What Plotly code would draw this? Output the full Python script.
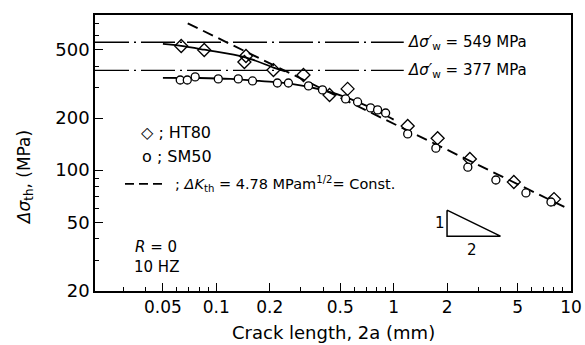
import numpy as np
import plotly.graph_objects as go

# Threshold stress range vs crack length (log-log)
ht80_crack = [0.0634, 0.0855, 0.147, 0.144, 0.21, 0.31, 0.435, 0.55, 1.2, 1.77, 2.69, 4.76, 8.02]
ht80_stress = [522, 495, 457, 422, 379, 355, 272, 295, 180, 153, 116, 85.4, 68]

sm50_crack = [0.0626, 0.0686, 0.076, 0.1026, 0.133, 0.16, 0.221, 0.255, 0.331, 0.397,
              0.536, 0.626, 0.741, 0.812, 0.901, 1.2, 1.73, 2.62, 3.77, 5.57, 7.71]
sm50_stress = [332, 332, 346, 337, 337, 328, 319, 319, 307, 291,
               258, 248, 229, 223, 214, 162, 134, 104, 87.7, 73.8, 65.4]

# Hand-fitted trend curves
ht80_fit_x = [0.05, 0.0634, 0.0855, 0.147, 0.21, 0.245]
ht80_fit_y = [537, 523, 497, 448, 392, 372]
sm50_fit_x = [0.05, 0.08, 0.12, 0.18, 0.26, 0.4, 0.55, 0.7, 0.85, 1.0]
sm50_fit_y = [342, 341, 337, 327, 316, 290, 262, 236, 214, 196]

# Fatigue limits, MPa
fatigue_limits = [549, 377]

# Constant threshold stress intensity range, MPa*m^0.5
delta_k_th = 4.78
geometry_factor = 0.65
dk_crack = [0.069, 9.7]

x_ticks = [0.05, 0.1, 0.2, 0.5, 1, 2, 5, 10]
x_tick_text = ["0.05", "0.1", "0.2", "0.5", "1", "2", "5", "10"]
y_ticks = [20, 50, 100, 200, 500]
x_minor = [0.03, 0.04, 0.06, 0.07, 0.08, 0.09, 0.3, 0.4, 0.6, 0.7, 0.8, 0.9,
           3, 4, 6, 7, 8, 9]
y_minor = [30, 40, 60, 70, 80, 90, 300, 400, 600, 700]

X_MIN, X_MAX = 0.0207, 10.0
Y_MIN, Y_MAX = 20.0, 789.0

FONT = "DejaVu Sans, Liberation Sans, sans-serif"
INK = "black"

fig = go.Figure()

# Fatigue-limit dash-dot lines
for fl in fatigue_limits:
    fig.add_trace(go.Scatter(
        x=[X_MIN, 1.14], y=[fl, fl], mode="lines",
        line=dict(color=INK, width=1.3, dash="34px,5px,2px,5px"),
        showlegend=False, hoverinfo="skip"))

# ΔK_th = const line: Δσ = ΔK / (F * sqrt(pi * a)), a = (2a)/2 in metres
dk_x = np.array(dk_crack)
dk_y = delta_k_th / (geometry_factor * np.sqrt(np.pi * dk_x / 2 * 1e-3))
fig.add_trace(go.Scatter(
    x=dk_x, y=dk_y, mode="lines",
    line=dict(color=INK, width=1.9, dash="11px,6px"),
    showlegend=False, hoverinfo="skip"))

# Trend curves
fig.add_trace(go.Scatter(
    x=ht80_fit_x, y=ht80_fit_y, mode="lines", line_shape="spline",
    line=dict(color=INK, width=1.8), showlegend=False, hoverinfo="skip"))
fig.add_trace(go.Scatter(
    x=sm50_fit_x, y=sm50_fit_y, mode="lines", line_shape="spline",
    line=dict(color=INK, width=1.8), showlegend=False, hoverinfo="skip"))

# Data
fig.add_trace(go.Scatter(
    x=ht80_crack, y=ht80_stress, mode="markers", name="HT80",
    marker=dict(symbol="diamond-open", size=10, color=INK, line=dict(width=1.3)),
    showlegend=False))
fig.add_trace(go.Scatter(
    x=sm50_crack, y=sm50_stress, mode="markers", name="SM50",
    marker=dict(symbol="circle", size=8, color="white", line=dict(width=1.3, color=INK)),
    showlegend=False))

# Slope 1:2 indicator
tri_x0, tri_y0 = 2.0, 41.5
fig.add_trace(go.Scatter(
    x=[tri_x0, tri_x0, tri_x0 * 2, tri_x0],
    y=[tri_y0 * np.sqrt(2), tri_y0, tri_y0, tri_y0 * np.sqrt(2)],
    mode="lines", line=dict(color=INK, width=1.5),
    showlegend=False, hoverinfo="skip"))

ann = []
def text(x, y, s, size=15, xanchor="left", xref="paper", yref="paper", angle=0):
    ann.append(dict(x=x, y=y, xref=xref, yref=yref, text=s, showarrow=False,
                    xanchor=xanchor, yanchor="middle", textangle=angle,
                    font=dict(family=FONT, size=size, color=INK)))

for fl in fatigue_limits:
    text(0.653, np.log10(fl), f"<i>Δσ′</i><sub>w</sub> = {fl} MPa", size=15, yref="y")

text(0.093, 0.576, "◇ ; HT80", size=16)
text(0.095, 0.489, "o ; SM50", size=16)
text(0.163, 0.388,
     f"; <i>ΔK</i><sub>th</sub> = {delta_k_th} MPam<sup>1/2</sup>= Const.", size=14.5)
text(0.079, 0.159, "<i>R</i> = 0", size=15)
text(0.077, 0.087, "10 HZ", size=15)
text(0.725, 0.246, "1", size=15, xanchor="center")
text(0.792, 0.149, "2", size=15, xanchor="center")
# axis titles
text(-0.147, 0.409, "<i>Δσ</i><sub>th</sub>, (MPa)", size=17, xanchor="center", angle=-90)
text(0.5, -0.152, "Crack length, 2a (mm)", size=18, xanchor="center")

fig.update_layout(
    width=585, height=345,
    margin=dict(l=95, r=14, t=15, b=54),
    paper_bgcolor="white", plot_bgcolor="white",
    font=dict(family=FONT, size=16, color=INK),
    annotations=ann,
    shapes=[dict(type="line", xref="paper", yref="paper",
                 x0=0.063, x1=0.151, y0=0.388, y1=0.388,
                 line=dict(color=INK, width=1.9, dash="9px,5px"))],
)

fig.update_xaxes(
    type="log", range=[np.log10(X_MIN), np.log10(X_MAX)], automargin=False,
    tickvals=x_ticks, ticktext=x_tick_text,
    ticks="inside", ticklen=8, tickwidth=1.2, tickcolor=INK,
    minor=dict(tickvals=x_minor, ticks="inside", ticklen=4, tickwidth=1, tickcolor=INK),
    showline=True, linecolor=INK, linewidth=1.5, mirror=True,
    showgrid=False, zeroline=False,
    tickfont=dict(family=FONT, size=17),
)
fig.update_yaxes(
    type="log", range=[np.log10(Y_MIN), np.log10(Y_MAX)], automargin=False,
    tickvals=y_ticks, ticktext=[str(v) for v in y_ticks],
    ticks="inside", ticklen=8, tickwidth=1.2, tickcolor=INK,
    minor=dict(tickvals=y_minor, ticks="inside", ticklen=4, tickwidth=1, tickcolor=INK),
    showline=True, linecolor=INK, linewidth=1.5, mirror=True,
    showgrid=False, zeroline=False,
    tickfont=dict(family=FONT, size=18),
)

fig.write_html("out.html")
